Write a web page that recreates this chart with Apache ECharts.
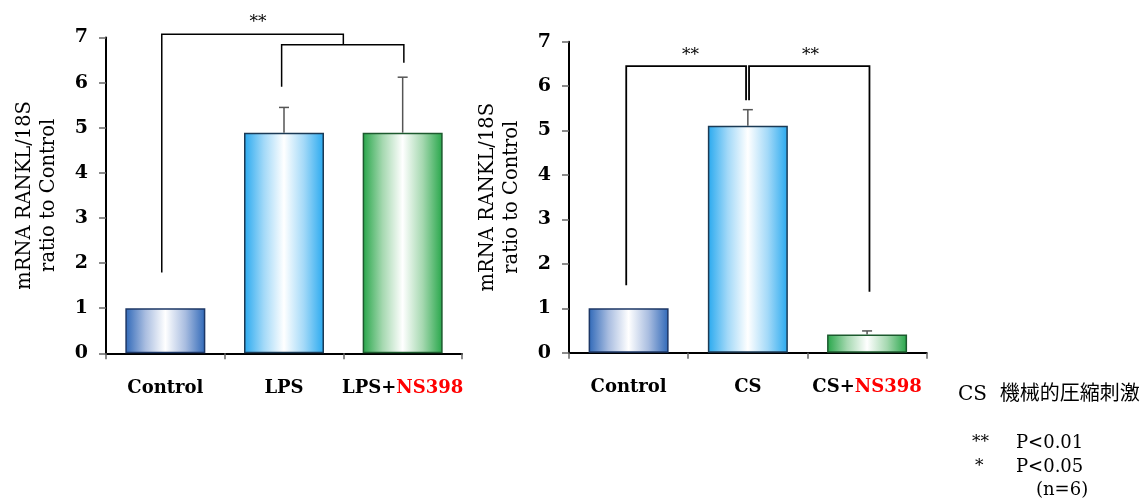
<!DOCTYPE html>
<html>
<head>
<meta charset="utf-8">
<script src="https://cdn.jsdelivr.net/npm/echarts@6/dist/echarts.min.js"></script>
<style>html,body{margin:0;padding:0;background:#fff;}#c{width:1148px;height:503px;}</style>
</head>
<body>
<div id="c"></div>
<script>
// ---- data ----
const categoriesLeft = ['Control', 'LPS', 'LPS+NS398'];
const valuesLeft = [1.0, 4.89, 4.89];
const errorsLeft = [0, 0.56, 1.23];
const categoriesRight = ['Control', 'CS', 'CS+NS398'];
const valuesRight = [1.0, 5.11, 0.41];
const errorsRight = [0, 0.36, 0.08];
const yTicks = [0, 1, 2, 3, 4, 5, 6, 7];
// brackets: [xLeft, yLeftBottom, yTop, xRight, yRightBottom] in category-index units
const bracketsLeft = [[-0.03, 1.79, 7.07, 1.50, 6.84], [0.98, 5.91, 6.84, 2.01, 6.44]];
const starsLeft = [[0.78, 7.33, '**']];
const bracketsRight = [[-0.02, 1.52, 6.45, 0.985, 5.68], [1.01, 5.68, 6.45, 2.02, 1.37]];
const starsRight = [[0.52, 6.68, '**'], [1.525, 6.68, '**']];
const yTitle = 'mRNA RANKL/18S\nratio to Control';
const noteLines = ['CS  機械的圧縮刺激', '**', 'P<0.01', '*', 'P<0.05', '(n=6)'];

const SERIF = '"DejaVu Serif", "Liberation Serif", serif';

function grad(edge, mid) {
  return new echarts.graphic.LinearGradient(0, 0, 1, 0, [
    {offset: 0, color: edge}, {offset: 0.25, color: mid},
    {offset: 0.5, color: '#ffffff'}, {offset: 0.75, color: mid}, {offset: 1, color: edge}
  ]);
}
const barStyles = [
  {color: grad('#2f68b8', '#a9bde0'), borderColor: '#1c3766', borderWidth: 1.5},
  {color: grad('#28a9ef', '#a3d9f8'), borderColor: '#1b3a55', borderWidth: 1.5},
  {color: grad('#26a649', '#a5d8b0'), borderColor: '#1c5a2e', borderWidth: 1.5}
];

function catLabel(v) {
  const i = v.indexOf('+');
  if (i < 0) return v;
  return v.slice(0, i + 1) + '{r|' + v.slice(i + 1) + '}';
}

function makeX(gridIndex) {
  return {
    type: 'category', gridIndex: gridIndex,
    data: gridIndex === 0 ? categoriesLeft : categoriesRight,
    axisLine: {onZero: false, lineStyle: {color: '#000', width: 2}},
    axisTick: {show: true, length: 6, lineStyle: {color: '#666', width: 1.5}},
    axisLabel: {
      interval: 0, margin: 26, fontFamily: SERIF, fontWeight: 'bold', fontSize: 18, color: '#000',
      formatter: catLabel,
      rich: {r: {color: '#ff0000', fontFamily: SERIF, fontWeight: 'bold', fontSize: 18}}
    }
  };
}
function makeY(gridIndex) {
  return {
    type: 'value', gridIndex: gridIndex, min: yTicks[0], max: yTicks[yTicks.length - 1], interval: 1,
    splitLine: {show: false},
    axisLine: {show: true, onZero: false, lineStyle: {color: '#000', width: 2}},
    axisTick: {show: true, length: 7, lineStyle: {color: '#666', width: 1.5}},
    axisLabel: {margin: 18, fontFamily: SERIF, fontWeight: 'bold', fontSize: 19, color: '#000'},
    name: yTitle, nameLocation: 'middle', nameRotate: 90, nameGap: 45,
    nameTextStyle: {fontFamily: SERIF, fontSize: 19.5, color: '#000', lineHeight: 24, align: 'center'}
  };
}
function makeHiddenX(gridIndex) {
  return {type: 'value', gridIndex: gridIndex, min: -0.5, max: 2.5, show: false,
    axisLine: {onZero: false}};
}

function errorSeries(xi, yi, vals, errs) {
  return {
    type: 'custom', xAxisIndex: xi, yAxisIndex: yi, z: 5, clip: false,
    data: vals.map((v, i) => [i, v, errs[i]]),
    renderItem: function (params, api) {
      const e = api.value(2);
      if (!e) return null;
      const p0 = api.coord([api.value(0), api.value(1)]);
      const p1 = api.coord([api.value(0), api.value(1) + e]);
      const st = {stroke: '#555', lineWidth: 1.5};
      return {type: 'group', children: [
        {type: 'line', shape: {x1: p0[0], y1: p0[1], x2: p1[0], y2: p1[1]}, style: st},
        {type: 'line', shape: {x1: p1[0] - 5, y1: p1[1], x2: p1[0] + 5, y2: p1[1]}, style: st}
      ]};
    }
  };
}
function bracketSeries(xi, yi, brackets, lw) {
  return {
    type: 'custom', xAxisIndex: xi, yAxisIndex: yi, z: 6, clip: false,
    data: brackets,
    renderItem: function (params, api) {
      const a = api.coord([api.value(0), api.value(1)]);
      const b = api.coord([api.value(0), api.value(2)]);
      const c = api.coord([api.value(3), api.value(2)]);
      const d = api.coord([api.value(3), api.value(4)]);
      return {type: 'polyline', shape: {points: [a, b, c, d]},
        style: {stroke: '#000', lineWidth: lw, fill: null}};
    }
  };
}
function starSeries(xi, yi, stars) {
  return {
    type: 'custom', xAxisIndex: xi, yAxisIndex: yi, z: 6, clip: false,
    data: stars,
    renderItem: function (params, api) {
      const p = api.coord([api.value(0), api.value(1)]);
      return {type: 'text', x: p[0], y: p[1],
        style: {text: stars[params.dataIndex][2], fontFamily: SERIF, fontSize: 17, fill: '#000',
          align: 'center', verticalAlign: 'middle'}};
    }
  };
}

const chart = echarts.init(document.getElementById('c'));
chart.setOption({
  animation: false,
  backgroundColor: '#fff',
  grid: [
    {left: 106, top: 37.5, width: 356, height: 315.8},
    {left: 569, top: 41.7, width: 357.7, height: 311}
  ],
  xAxis: [makeX(0), makeX(1), makeHiddenX(0), makeHiddenX(1)],
  yAxis: [makeY(0), makeY(1)],
  series: [
    {type: 'bar', xAxisIndex: 0, yAxisIndex: 0, barWidth: 80, z: 3,
      data: valuesLeft.map((v, i) => ({value: v, itemStyle: barStyles[i]}))},
    {type: 'bar', xAxisIndex: 1, yAxisIndex: 1, barWidth: 80, z: 3,
      data: valuesRight.map((v, i) => ({value: v, itemStyle: barStyles[i]}))},
    errorSeries(0, 0, valuesLeft, errorsLeft),
    errorSeries(1, 1, valuesRight, errorsRight),
    bracketSeries(2, 0, bracketsLeft, 1.5),
    bracketSeries(3, 1, bracketsRight, 1.8),
    starSeries(2, 0, starsLeft),
    starSeries(3, 1, starsRight)
  ],
  graphic: [
    {type: 'text', left: 958, top: 385, style: {text: noteLines[0], font: '20px ' + SERIF + ', "Noto Sans CJK JP"', fill: '#000'}},
    {type: 'text', left: 972, top: 434, style: {text: noteLines[1], font: '17px ' + SERIF, fill: '#000'}},
    {type: 'text', left: 1016, top: 434, style: {text: noteLines[2], font: '18px ' + SERIF, fill: '#000'}},
    {type: 'text', left: 975, top: 458, style: {text: noteLines[3], font: '17px ' + SERIF, fill: '#000'}},
    {type: 'text', left: 1016, top: 458, style: {text: noteLines[4], font: '18px ' + SERIF, fill: '#000'}},
    {type: 'text', left: 1036, top: 481, style: {text: noteLines[5], font: '18px ' + SERIF, fill: '#000'}}
  ]
});
</script>
</body>
</html>
